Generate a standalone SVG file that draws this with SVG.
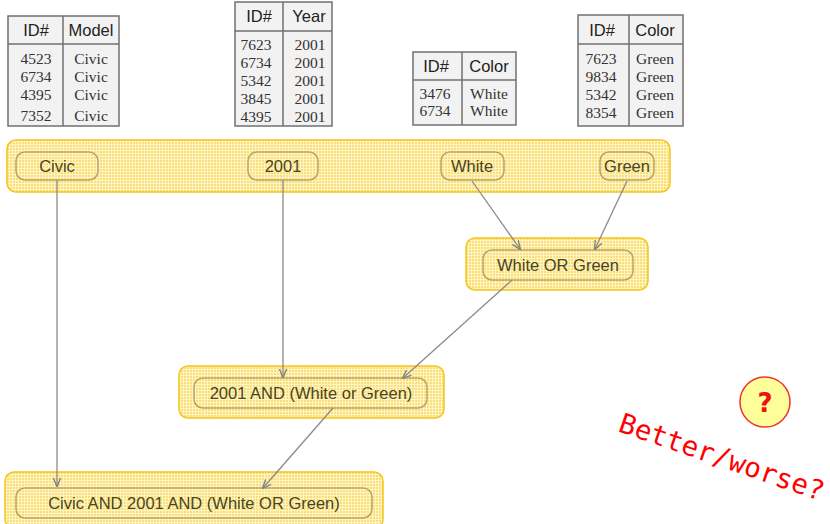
<svg xmlns="http://www.w3.org/2000/svg" width="830" height="524" viewBox="0 0 830 524">
  <defs>
    <pattern id="mesh" width="3" height="3" patternUnits="userSpaceOnUse">
      <rect width="3" height="3" fill="#f9df78"/>
      <path d="M0 0.5H3M0.5 0V3" stroke="#fff4c4" stroke-width="1"/>
    </pattern>
    <marker id="arr" viewBox="0 0 10 10" refX="9" refY="5" markerWidth="7" markerHeight="7" orient="auto">
      <path d="M0 1L10 5L0 9" fill="none" stroke="#808080" stroke-width="1.5"/>
    </marker>
    <style>
      .tbl rect{fill:#f2f2f2;stroke:#707070;stroke-width:1.5}
      .tbl line{stroke:#707070;stroke-width:1.5}
      .hd{font-family:"Liberation Sans",Arial,sans-serif;font-size:16.5px;fill:#222;text-anchor:middle}
      .cell{font-family:"Liberation Serif","Times New Roman",serif;font-size:15.5px;fill:#333;text-anchor:middle}
      .band{fill:url(#mesh);stroke:#f5c518;stroke-width:1.5}
      .pill{fill:none;stroke:#b8a468;stroke-width:1.5}
      .lbl{font-family:"Liberation Sans",Arial,sans-serif;font-size:16.5px;fill:#4a4420;text-anchor:middle}
      .edge{stroke:#8a8a8a;stroke-width:1.3;fill:none;marker-end:url(#arr)}
    </style>
  </defs>

  <!-- data tables -->
  <g id="table-model" class="tbl">
    <rect x="8" y="16" width="111" height="110"/>
    <line x1="8" y1="44" x2="119" y2="44"/>
    <line x1="63" y1="16" x2="63" y2="126"/>
    <text class="hd" x="36" y="36">ID#</text>
    <text class="hd" x="91" y="36">Model</text>
    <text class="cell" x="36" y="64">4523</text><text class="cell" x="91" y="64">Civic</text>
    <text class="cell" x="36" y="82">6734</text><text class="cell" x="91" y="82">Civic</text>
    <text class="cell" x="36" y="100">4395</text><text class="cell" x="91" y="100">Civic</text>
    <text class="cell" x="36" y="121">7352</text><text class="cell" x="91" y="121">Civic</text>
  </g>
  <g id="table-year" class="tbl">
    <rect x="235" y="2" width="97" height="124"/>
    <line x1="235" y1="31" x2="332" y2="31"/>
    <line x1="283" y1="2" x2="283" y2="126"/>
    <text class="hd" x="259" y="22">ID#</text>
    <text class="hd" x="309" y="22">Year</text>
    <text class="cell" x="256" y="50">7623</text><text class="cell" x="310" y="50">2001</text>
    <text class="cell" x="256" y="68">6734</text><text class="cell" x="310" y="68">2001</text>
    <text class="cell" x="256" y="86">5342</text><text class="cell" x="310" y="86">2001</text>
    <text class="cell" x="256" y="104">3845</text><text class="cell" x="310" y="104">2001</text>
    <text class="cell" x="256" y="122">4395</text><text class="cell" x="310" y="122">2001</text>
  </g>
  <g id="table-white" class="tbl">
    <rect x="413" y="52" width="103" height="73"/>
    <line x1="413" y1="80" x2="516" y2="80"/>
    <line x1="462" y1="52" x2="462" y2="125"/>
    <text class="hd" x="436" y="72">ID#</text>
    <text class="hd" x="489" y="72">Color</text>
    <text class="cell" x="435" y="99">3476</text><text class="cell" x="489" y="99">White</text>
    <text class="cell" x="435" y="116">6734</text><text class="cell" x="489" y="116">White</text>
  </g>
  <g id="table-green" class="tbl">
    <rect x="578" y="15" width="105" height="111"/>
    <line x1="578" y1="44" x2="683" y2="44"/>
    <line x1="629" y1="15" x2="629" y2="126"/>
    <text class="hd" x="602" y="36">ID#</text>
    <text class="hd" x="655" y="36">Color</text>
    <text class="cell" x="601" y="64">7623</text><text class="cell" x="655" y="64">Green</text>
    <text class="cell" x="601" y="82">9834</text><text class="cell" x="655" y="82">Green</text>
    <text class="cell" x="601" y="100">5342</text><text class="cell" x="655" y="100">Green</text>
    <text class="cell" x="601" y="118">8354</text><text class="cell" x="655" y="118">Green</text>
  </g>

  <!-- first-level bitmaps -->
  <rect class="band" x="7" y="140" width="663" height="52" rx="9"/>
  <g id="civic">
    <rect class="pill" x="16" y="152" width="82" height="28" rx="9"/>
    <text class="lbl" x="57" y="172">Civic</text>
  </g>
  <g id="y2001">
    <rect class="pill" x="248" y="152" width="70" height="28" rx="9"/>
    <text class="lbl" x="283" y="172">2001</text>
  </g>
  <g id="white">
    <rect class="pill" x="441" y="152" width="63" height="28" rx="9"/>
    <text class="lbl" x="472" y="172">White</text>
  </g>
  <g id="green">
    <rect class="pill" x="600" y="152" width="54" height="28" rx="9"/>
    <text class="lbl" x="627" y="172">Green</text>
  </g>

  <g id="white-or-green">
    <rect class="band" x="466" y="238" width="182" height="52" rx="9"/>
    <rect class="pill" x="483" y="250" width="150" height="30" rx="9"/>
    <text class="lbl" x="558" y="271">White OR Green</text>
  </g>
  <g id="and-2001">
    <rect class="band" x="179" y="366" width="265" height="52" rx="9"/>
    <rect class="pill" x="194" y="378" width="233" height="30" rx="9"/>
    <text class="lbl" x="311" y="399">2001 AND (White or Green)</text>
  </g>
  <g id="and-all">
    <rect class="band" x="5" y="472" width="378" height="56" rx="9"/>
    <rect class="pill" x="16" y="488" width="356" height="30" rx="9"/>
    <text class="lbl" x="194" y="509">Civic AND 2001 AND (White OR Green)</text>
  </g>

  <g id="connectors">
    <line class="edge" x1="57" y1="180" x2="57" y2="486"/>
    <line class="edge" x1="283" y1="180" x2="283" y2="377"/>
    <line class="edge" x1="472" y1="181" x2="520" y2="249"/>
    <line class="edge" x1="627" y1="181" x2="595" y2="249"/>
    <line class="edge" x1="512" y1="280" x2="403" y2="378"/>
    <line class="edge" x1="333" y1="408" x2="263" y2="488"/>
  </g>

  <g id="question">
    <circle cx="765" cy="402" r="25" fill="#ffff99" stroke="#ee3333" stroke-width="1.5"/>
    <text x="765" y="412" font-family="'DejaVu Sans',sans-serif" font-weight="bold" font-size="26" fill="#ee1111" text-anchor="middle">?</text>
  </g>
  <text x="0" y="0" transform="translate(617,431) rotate(19)" font-family="'DejaVu Sans Mono',monospace" font-size="27.5" fill="#ff0000">Better/worse?</text>
</svg>
